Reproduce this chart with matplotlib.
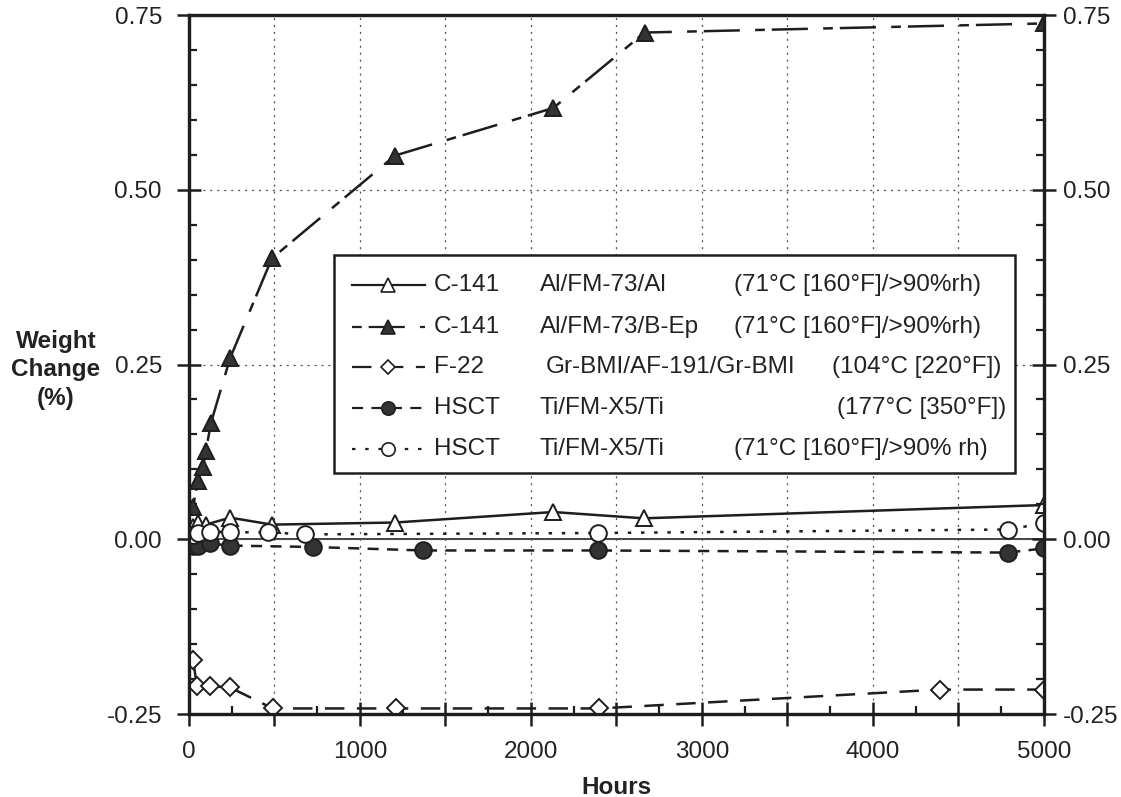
import matplotlib
matplotlib.use('Agg')
import matplotlib.pyplot as plt
from matplotlib.lines import Line2D
from matplotlib.patches import Rectangle
from matplotlib.ticker import MultipleLocator, FuncFormatter

plt.rcParams['font.family'] = ['Liberation Sans', 'DejaVu Sans']
plt.rcParams['lines.scale_dashes'] = False

# --- data ---
c141_al_hours = [23, 53, 99, 240, 485, 1205, 2130, 2660, 5000]
c141_al_change = [0.017, 0.023, 0.021, 0.031, 0.021, 0.024, 0.039, 0.030, 0.049]

c141_bep_hours = [23, 53, 82, 99, 129, 240, 485, 1205, 2130, 2665, 5000]
c141_bep_change = [0.046, 0.084, 0.103, 0.127, 0.167, 0.259, 0.402, 0.549, 0.617, 0.725, 0.738]

f22_hours = [23, 47, 123, 240, 490, 1210, 2400, 4390, 5000]
f22_change = [-0.172, -0.210, -0.210, -0.212, -0.242, -0.242, -0.242, -0.215, -0.215]

hsct_hot_hours = [23, 53, 123, 240, 725, 1370, 2390, 4790, 5000]
hsct_hot_change = [-0.009, -0.009, -0.006, -0.009, -0.011, -0.016, -0.016, -0.019, -0.013]

hsct_wet_hours = [23, 53, 123, 240, 462, 678, 2390, 4790, 5000]
hsct_wet_change = [0.006, 0.009, 0.011, 0.010, 0.010, 0.007, 0.009, 0.014, 0.023]

programs = ['C-141', 'C-141', 'F-22', 'HSCT', 'HSCT']
adherends = ['Al/FM-73/Al', 'Al/FM-73/B-Ep', 'Gr-BMI/AF-191/Gr-BMI',
             'Ti/FM-X5/Ti', 'Ti/FM-X5/Ti']
conditions = ['(71°C [160°F]/>90%rh)', '(71°C [160°F]/>90%rh)',
              '(104°C [220°F])', '(177°C [350°F])', '(71°C [160°F]/>90% rh)']

# --- styles ---
ink = '#1e1e1e'
series = [
    (c141_al_hours, c141_al_change, dict(ls='-', marker='^', mfc='white', ms=12)),
    (c141_bep_hours, c141_bep_change, dict(ls=(0, (7, 5, 26, 11)), marker='^', mfc='#333333', ms=12)),
    (f22_hours, f22_change, dict(ls=(0, (14, 9)), marker='D', mfc='white', ms=9)),
    (hsct_hot_hours, hsct_hot_change, dict(ls=(0, (8, 6)), marker='o', mfc='#333333', ms=12)),
    (hsct_wet_hours, hsct_wet_change, dict(ls=(0, (2.5, 7)), marker='o', mfc='white', ms=12)),
]

fig = plt.figure(figsize=(11.21, 7.97), dpi=100)
ax = fig.add_axes([0.1686, 0.1041, 0.7627, 0.877])

for hrs, vals, st in series:
    ax.plot(hrs, vals, color=ink, lw=1.8, mec=ink, mew=1.4, zorder=3, **st)

ax.set_xlim(0, 5000)
ax.set_ylim(-0.25, 0.75)

ax.xaxis.set_major_locator(MultipleLocator(500))
ax.xaxis.set_minor_locator(MultipleLocator(250))
ax.xaxis.set_major_formatter(FuncFormatter(lambda v, p: f'{v:.0f}' if v % 1000 == 0 else ''))
ax.yaxis.set_major_locator(MultipleLocator(0.25))
ax.yaxis.set_minor_locator(MultipleLocator(0.05))
ax.yaxis.set_major_formatter(FuncFormatter(lambda v, p: f'{v:.2f}'))

ax.grid(True, which='major', color='#555555', ls=(0, (1.5, 3.5)), lw=0.9, zorder=0)
ax.axhline(0, color='#333333', lw=1.3, zorder=1)

for s in ax.spines.values():
    s.set_linewidth(2.3)
    s.set_color(ink)

ax.tick_params(which='major', direction='inout', length=17, width=1.8, color=ink,
               labelsize=17.5, labelcolor='#222222', pad=11)
ax.tick_params(which='minor', direction='in', length=6, width=1.6, color=ink)
ax.tick_params(axis='y', which='both', right=True)

ax2 = ax.twinx()
ax2.set_ylim(ax.get_ylim())
ax2.yaxis.set_major_locator(MultipleLocator(0.25))
ax2.yaxis.set_minor_locator(MultipleLocator(0.05))
ax2.yaxis.set_major_formatter(FuncFormatter(lambda v, p: f'{v:.2f}'))
ax2.tick_params(which='major', direction='inout', length=17, width=1.8, color=ink,
                labelsize=17.5, labelcolor='#222222', pad=5)
ax2.tick_params(which='minor', direction='in', length=6, width=1.6, color=ink)
for s in ax2.spines.values():
    s.set_linewidth(2.3)
    s.set_color(ink)

ax.set_xlabel('Hours', fontsize=17.5, fontweight='bold', color='#222222', labelpad=9)
fig.text(0.05, 0.536, 'Weight\nChange\n(%)', fontsize=17.5, fontweight='bold',
         color='#222222', ha='center', va='center', multialignment='center',
         linespacing=1.3)

# --- legend box drawn in axes fraction ---
ax.add_patch(Rectangle((0.1696, 0.3448), 0.7964, 0.3119, transform=ax.transAxes,
                       facecolor='white', edgecolor=ink, lw=1.8, zorder=5))
row_y = [0.6137, 0.5536, 0.4964, 0.4378, 0.3791]
adh_x = [0.4105, 0.4105, 0.4175, 0.4105, 0.4105]
cond_x = [0.6374, 0.6374, 0.752, 0.758, 0.6374]
for i, (hrs, vals, st) in enumerate(series):
    y = row_y[i]
    ax.add_line(Line2D([0.1906, 0.276], [y, y], transform=ax.transAxes, color=ink,
                       lw=1.6, ls=st['ls'], zorder=6))
    ax.add_line(Line2D([0.2327], [y], transform=ax.transAxes, ls='none',
                       marker=st['marker'], mfc=st['mfc'], mec=ink, mew=1.2,
                       ms=st['ms'] * 0.8, zorder=7))
    kw = dict(transform=ax.transAxes, fontsize=17.5, color='#222222', va='center', zorder=7)
    ax.text(0.2865, y, programs[i], **kw)
    ax.text(adh_x[i], y, adherends[i], **kw)
    ax.text(cond_x[i], y, conditions[i], **kw)

fig.savefig('out.png', dpi=100)
